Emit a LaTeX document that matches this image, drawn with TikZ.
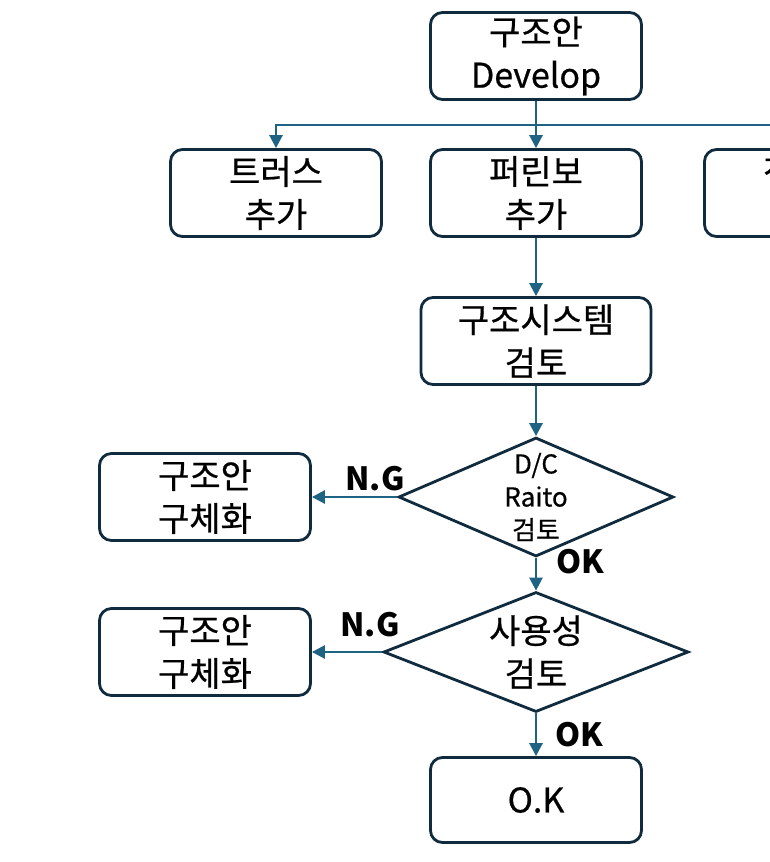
\documentclass[tikz,border=0pt]{standalone}
\usepackage{fontspec}
\setmainfont{Noto Sans CJK KR}[FakeBold=0.6]
\newfontfamily\tagfont{Noto Sans CJK KR}
\usetikzlibrary{arrows.meta,shapes.geometric}
\definecolor{boxline}{HTML}{0F2B3D}
\definecolor{flowline}{HTML}{1F6384}

\begin{document}
\begin{tikzpicture}[x=1pt,y=-1pt,
  box/.style={draw=boxline,line width=2.8pt,rounded corners=12pt,minimum width=211pt,minimum height=87pt,align=center,inner sep=0pt,font=\fontsize{34}{43}\selectfont},
  check/.style={diamond,draw=boxline,line width=2.8pt,inner sep=0pt},
  flow/.style={draw=flowline,line width=2.6pt,-{Triangle[length=13pt,width=13pt]}},
  tag/.style={font=\fontsize{32}{36}\tagfont\bfseries}]
\useasboundingbox (0,0) rectangle (770,862);
\clip (0,0) rectangle (770,862);

% top of the tree
\node[box] (develop) at (536,56) {구조안\\Develop};
\node[box] (truss) at (276,193) {트러스\\추가};
\node[box] (purlin) at (536,193) {퍼린보\\추가};
\node[box] (third) at (810,193) {전단벽\\추가};
\coordinate (split) at (536,125);
\draw[flow] (develop) -- (purlin);
\draw[flow] (split) -| (truss.north);
\draw[flow] (split) -| (third.north);

% checks
\node[box,minimum width=230pt] (system) at (536,341) {구조시스템\\검토};
\draw[flow] (purlin) -- (system);

\node[check,minimum width=275pt,minimum height=119pt,aspect=2.31] (ratio) at (536,497) {};
\node[align=center,font=\fontsize{26}{33}\selectfont] (ratiotext) at (ratio) {D/C\\Raito\\검토};
\draw[flow] (system) -- (ratio);
\node[box] (detail1) at (205,497) {구조안\\구체화};
\draw[flow] (ratio.west) -- (detail1.east);
\node[tag] (ng1) at (375,479) {N.G};

\node[check,minimum width=305pt,minimum height=120pt,aspect=2.54] (usage) at (536,652) {};
\node[align=center,font=\fontsize{34}{43}\selectfont] (usagetext) at (usage) {사용성\\검토};
\draw[flow] (ratio.south) -- (usage.north);
\node[tag] (ok1) at (580,562) {OK};
\node[box] (detail2) at (205,652) {구조안\\구체화};
\draw[flow] (usage.west) -- (detail2.east);
\node[tag] (ng2) at (370,625) {N.G};

\node[box,minimum height=85pt] (done) at (536,800) {O.K};
\draw[flow] (usage.south) -- (done);
\node[tag] (ok2) at (579,735) {OK};
\end{tikzpicture}
\end{document}
